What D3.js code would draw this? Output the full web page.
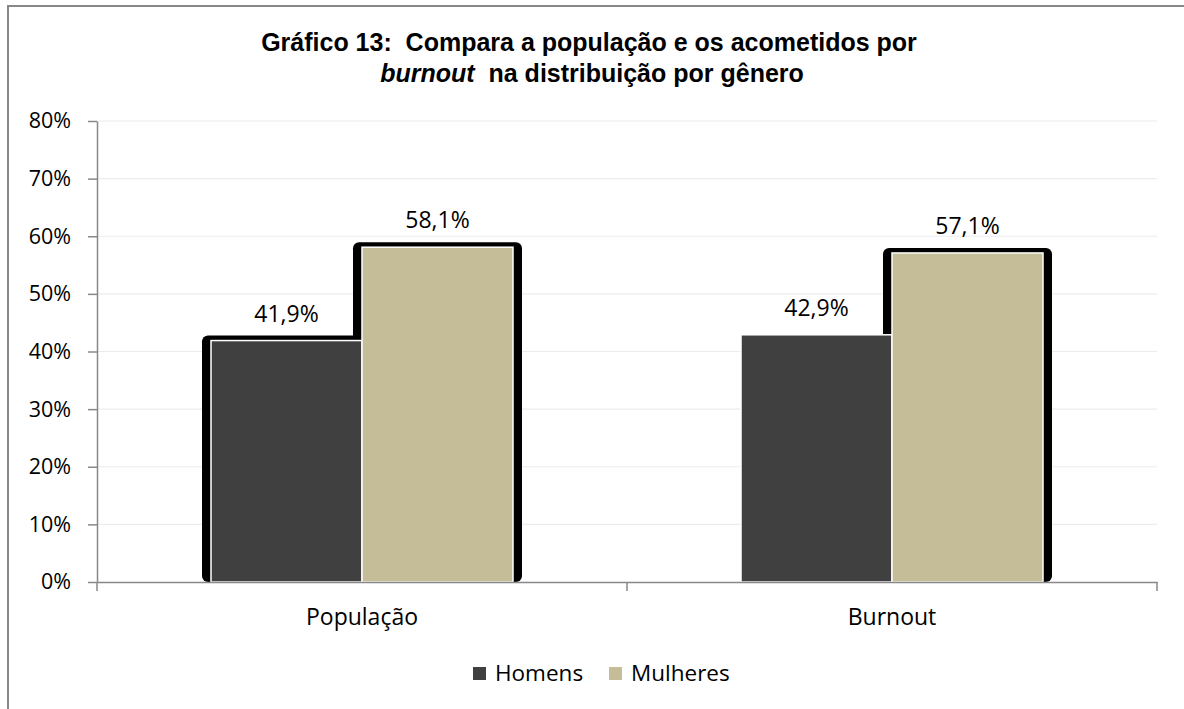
<!DOCTYPE html>
<html>
<head>
<meta charset="utf-8">
<script src="https://cdn.jsdelivr.net/npm/d3@7/dist/d3.min.js"></script>
<style>
  html, body { margin: 0; padding: 0; background: #fff; }
  svg { display: block; }
  .title text { white-space: pre; }
</style>
</head>
<body>
<svg id="chart" width="1184" height="709"></svg>
<script>
// Chart data
const categories = ["População", "Burnout"];
const seriesNames = ["Homens", "Mulheres"];
const homensValues = [41.9, 42.9];
const mulheresValues = [58.1, 57.1];
// which points carry the heavy black outline
const homensOutlined = [true, false];
const mulheresOutlined = [true, true];
const yTicks = [0, 10, 20, 30, 40, 50, 60, 70, 80];
const title1 = "Gráfico 13:  Compara a população e os acometidos por";
const title2Italic = "burnout";
const title2Rest = "  na distribuição por gênero";

const colors = { Homens: "#404040", Mulheres: "#C4BD97" };
const labelFont = "'Open Sans', 'Noto Sans', sans-serif";

const svg = d3.select("#chart");

// Outer frame
svg.append("path")
  .attr("d", "M8,709 V6 H1184")
  .attr("fill", "none")
  .attr("stroke", "#888")
  .attr("stroke-width", 2);

const plot = { left: 97, right: 1157, top: 121, bottom: 582 };

const y = d3.scaleLinear().domain([0, 80]).range([plot.bottom, plot.top]);
const x0 = d3.scaleBand().domain(categories).range([plot.left, plot.right]).padding(0);
const x1 = d3.scaleBand().domain(seriesNames).range([0, x0.bandwidth()])
  .paddingInner(0).paddingOuter(0.755);

const rows = categories.map((c, i) => ({
  category: c,
  points: [
    { series: "Homens", value: homensValues[i], outlined: homensOutlined[i] },
    { series: "Mulheres", value: mulheresValues[i], outlined: mulheresOutlined[i] }
  ]
}));

// Gridlines
svg.append("g")
  .selectAll("line")
  .data(yTicks.filter(t => t > 0))
  .join("line")
  .attr("x1", plot.left).attr("x2", plot.right)
  .attr("y1", d => y(d)).attr("y2", d => y(d))
  .attr("stroke", "#ececec")
  .attr("stroke-width", 1.2);

// Y axis
const yAxis = svg.append("g")
  .attr("transform", `translate(${plot.left},0)`)
  .call(d3.axisLeft(y).tickValues(yTicks).tickFormat(d => d + "%").tickSize(9).tickSizeOuter(0));
yAxis.select(".domain").attr("stroke", "#888").attr("stroke-width", 1.5);
yAxis.selectAll(".tick line").attr("stroke", "#888").attr("stroke-width", 1.5);
yAxis.selectAll(".tick text")
  .attr("x", -26)
  .attr("fill", "#000")
  .style("font-family", labelFont)
  .style("font-size", "21.5px");

// Heavy outlines behind the bars
const groups = svg.append("g").selectAll("g")
  .data(rows)
  .join("g")
  .attr("transform", d => `translate(${x0(d.category)},0)`);

groups.selectAll("rect.outline")
  .data(d => d.points.filter(p => p.outlined))
  .join("rect")
  .attr("class", "outline")
  .attr("x", d => x1(d.series) - 9)
  .attr("y", d => y(d.value) - 5)
  .attr("width", x1.bandwidth() + 18)
  .attr("height", d => plot.bottom - y(d.value) + 5)
  .attr("rx", 6)
  .attr("fill", "#000");

// Bars
groups.selectAll("rect.bar")
  .data(d => d.points)
  .join("rect")
  .attr("class", "bar")
  .attr("x", d => x1(d.series))
  .attr("y", d => y(d.value))
  .attr("width", x1.bandwidth())
  .attr("height", d => plot.bottom - y(d.value))
  .attr("fill", d => colors[d.series])
  .attr("stroke", "#fff")
  .attr("stroke-width", 1.5);

// Value labels
groups.selectAll("text.value")
  .data(d => d.points)
  .join("text")
  .attr("class", "value")
  .attr("x", d => x1(d.series) + x1.bandwidth() / 2)
  .attr("y", d => y(d.value) - 19)
  .attr("text-anchor", "middle")
  .style("font-family", labelFont)
  .style("font-size", "23px")
  .attr("fill", "#000")
  .text(d => d.value.toFixed(1).replace(".", ",") + "%");

// X axis
const xAxis = svg.append("g")
  .attr("transform", `translate(0,${plot.bottom})`)
  .call(d3.axisBottom(x0).tickSize(0).tickSizeOuter(0));
xAxis.select(".domain").attr("stroke", "#888").attr("stroke-width", 1.5);
xAxis.selectAll(".tick text")
  .attr("y", 27)
  .attr("dy", "0.71em")
  .attr("fill", "#000")
  .style("font-family", labelFont)
  .style("font-size", "23px");
// category boundary ticks
const boundaries = categories.map(c => x0(c)).concat([x0(categories[categories.length - 1]) + x0.bandwidth()]);
xAxis.selectAll("line.boundary")
  .data(boundaries)
  .join("line")
  .attr("class", "boundary")
  .attr("x1", d => d).attr("x2", d => d)
  .attr("y1", 0).attr("y2", 9)
  .attr("stroke", "#888").attr("stroke-width", 1.5);

// Title (double spaces kept as drawn)
const title = svg.append("g")
  .attr("class", "title")
  .attr("text-anchor", "middle")
  .style("font-family", "'Liberation Sans', Arial, sans-serif")
  .style("font-weight", "bold")
  .style("font-size", "25px")
  .attr("fill", "#000");
title.append("text").attr("xml:space", "preserve").attr("x", 589).attr("y", 51).text(title1);
const t2 = title.append("text").attr("xml:space", "preserve").attr("x", 592).attr("y", 82);
t2.append("tspan").style("font-style", "italic").text(title2Italic);
t2.append("tspan").text(title2Rest);

// Legend
const legend = svg.append("g")
  .style("font-family", labelFont)
  .style("font-size", "22.5px");
const legendX = [473, 609];
seriesNames.forEach((s, i) => {
  const g = legend.append("g").attr("transform", `translate(${legendX[i]},667)`);
  g.append("rect").attr("width", 13).attr("height", 13).attr("fill", colors[s]);
  g.append("text").attr("x", 22).attr("y", 13.5).attr("fill", "#000").text(s);
});
</script>
</body>
</html>
